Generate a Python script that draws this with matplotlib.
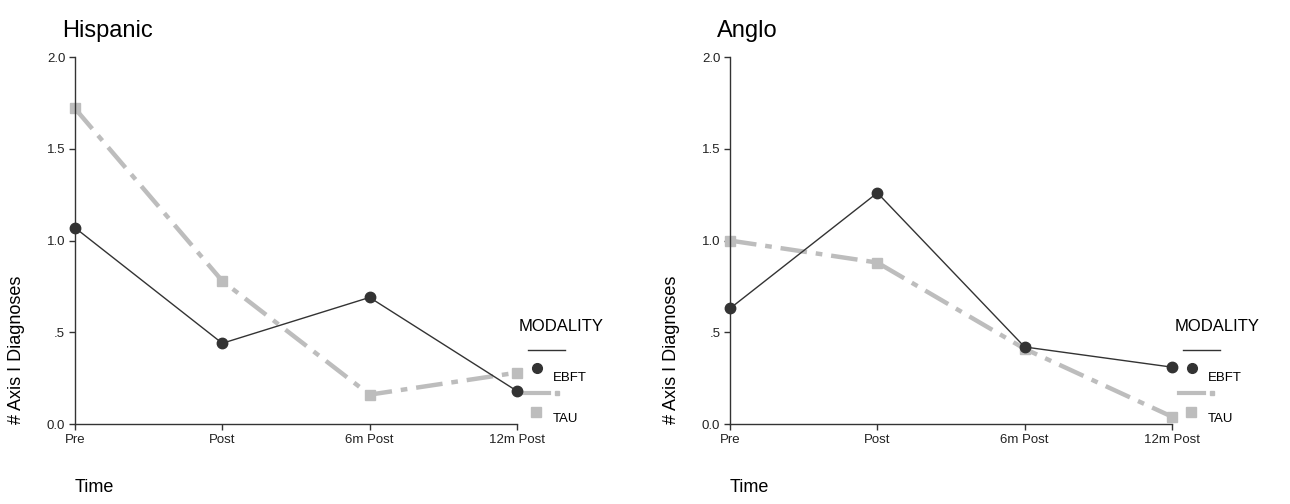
import matplotlib.pyplot as plt
from matplotlib.lines import Line2D

time_labels = ["Pre", "Post", "6m Post", "12m Post"]
groups = ["Hispanic", "Anglo"]
ebft = {"Hispanic": [1.07, 0.44, 0.69, 0.18], "Anglo": [0.63, 1.26, 0.42, 0.31]}
tau = {"Hispanic": [1.72, 0.78, 0.16, 0.28], "Anglo": [1.00, 0.88, 0.41, 0.04]}
y_ticks = [0.0, 0.5, 1.0, 1.5, 2.0]
y_tick_labels = ["0.0", ".5", "1.0", "1.5", "2.0"]

DARK = "#333333"
GRAY = "#bdbdbd"


def draw_legend(ax):
    tr = ax.transAxes
    ax.text(1.005, 0.267, "MODALITY", transform=tr, fontsize=12, va="center", ha="left")
    ax.add_line(Line2D([1.025, 1.109], [0.202, 0.202], transform=tr, color=DARK, lw=1, clip_on=False))
    ax.add_line(Line2D([1.045], [0.153], transform=tr, color=DARK, marker="o", ms=7, ls="none", clip_on=False))
    ax.text(1.081, 0.125, "EBFT", transform=tr, fontsize=9.5, va="center", ha="left")
    ax.add_line(Line2D([1.016, 1.072], [0.084, 0.084], transform=tr, color=GRAY, lw=3, clip_on=False))
    ax.add_line(Line2D([1.09], [0.084], transform=tr, color=GRAY, marker="s", ms=3, ls="none", clip_on=False))
    ax.add_line(Line2D([1.043], [0.033], transform=tr, color=GRAY, marker="s", ms=6.5, ls="none", clip_on=False))
    ax.text(1.081, 0.014, "TAU", transform=tr, fontsize=9.5, va="center", ha="left")


def main():
    plt.rcParams["font.family"] = ["Liberation Sans", "DejaVu Sans"]
    fig = plt.figure(figsize=(12.9, 5.04), dpi=100)
    lefts = [0.0581, 0.5659]
    x = list(range(len(time_labels)))
    for g, left in zip(groups, lefts):
        ax = fig.add_axes([left, 0.1587, 0.3426, 0.728])
        ax.plot(x, tau[g], color=GRAY, lw=3.2, ls=(0, (6, 2, 1.5, 2)),
                marker="s", ms=6.5, mec=GRAY, mfc=GRAY, clip_on=False, zorder=2)
        ax.plot(x, ebft[g], color=DARK, lw=1, marker="o", ms=7.5,
                mfc=DARK, mec=DARK, clip_on=False, zorder=3)
        ax.set_xlim(0, 3)
        ax.set_ylim(0, 2.0)
        ax.set_xticks(x)
        ax.set_xticklabels(time_labels, fontsize=9.5)
        ax.set_yticks(y_ticks)
        ax.set_yticklabels(y_tick_labels, fontsize=9.5)
        for s in ["top", "right"]:
            ax.spines[s].set_visible(False)
        for s in ["left", "bottom"]:
            ax.spines[s].set_color(DARK)
            ax.spines[s].set_linewidth(1)
        ax.tick_params(length=4, width=1, color=DARK, pad=3, labelcolor="#222222")
        ax.set_ylabel("# Axis I Diagnoses", fontsize=13, labelpad=16, loc="bottom")
        ax.text(0.0, -0.172, "Time", transform=ax.transAxes, fontsize=13, ha="left", va="center")
        ax.text(-0.03, 1.04, g, transform=ax.transAxes, fontsize=17, ha="left", va="bottom")
        draw_legend(ax)
    fig.savefig("out.png", dpi=100)


if __name__ == "__main__":
    main()
